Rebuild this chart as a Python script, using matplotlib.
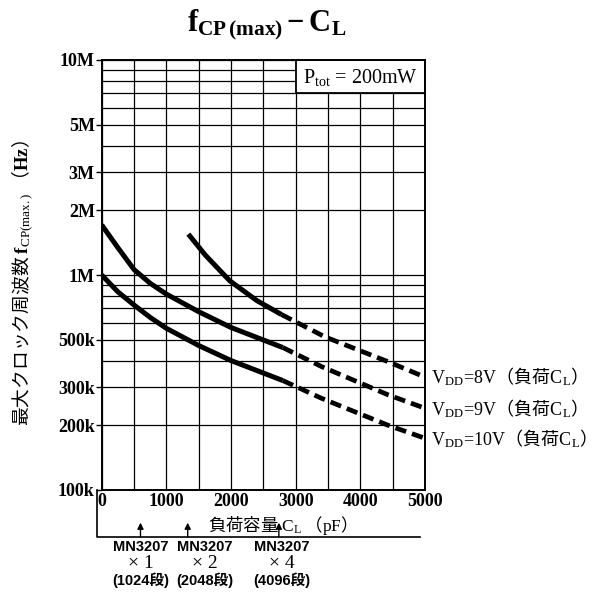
import matplotlib
matplotlib.use('Agg')
import matplotlib.pyplot as plt
import matplotlib.transforms as mtransforms
from matplotlib.ticker import FixedLocator, FixedFormatter, LogLocator, NullFormatter
from matplotlib.patches import Rectangle

plt.rcParams['mathtext.fontset'] = 'custom'
plt.rcParams['mathtext.rm'] = 'Liberation Serif'
plt.rcParams['mathtext.bf'] = 'Liberation Serif:bold'
plt.rcParams['mathtext.it'] = 'Liberation Serif:italic'
plt.rcParams['mathtext.sf'] = 'Liberation Sans'

SERIF = ['Liberation Serif', 'Noto Sans CJK JP', 'DejaVu Sans']
CJK = 'Noto Sans CJK JP'
SANS = ['Liberation Sans Narrow', 'Liberation Sans', 'Noto Sans CJK JP', 'DejaVu Sans']

# ---------------- data ----------------
cap_8v = [1340, 1600, 1980, 2400, 2780, 3450, 4000, 4430, 5000]
f_8v = [1.55e6, 1.24e6, 0.94e6, 0.76e6, 0.655e6, 0.516e6, 0.444e6, 0.395e6, 0.335e6]
cap_9v = [0, 250, 500, 750, 1000, 1500, 2000, 2800, 3400, 4430, 5000]
f_9v = [1.71e6, 1.34e6, 1.06e6, 0.915e6, 0.815e6, 0.675e6, 0.57e6, 0.46e6, 0.375e6, 0.277e6, 0.24e6]
cap_10v = [0, 250, 500, 750, 1000, 1500, 2000, 2800, 3400, 4430, 5000]
f_10v = [1.0e6, 0.835e6, 0.725e6, 0.635e6, 0.565e6, 0.47e6, 0.40e6, 0.323e6, 0.267e6, 0.20e6, 0.174e6]
series_v = ['8V', '9V', '10V']
solid_limit = 2800

y_ticks = [1e5, 2e5, 3e5, 5e5, 1e6, 2e6, 3e6, 5e6, 1e7]
y_labels = ['100k', '200k', '300k', '500k', '1M', '2M', '3M', '5M', '10M']
x_ticks = [0, 1000, 2000, 3000, 4000, 5000]
x_labels = ['0', '1000', '2000', '3000', '4000', '5000']

device_pos = [600, 1330, 2740]
device_label_x = [600, 1600, 2780]
device_names = ['MN3207', 'MN3207', 'MN3207']
device_mult = ['× 1', '× 2', '× 4']
device_stages = ['(1024段)', '(2048段)', '(4096段)']

# ---------------- figure ----------------
fig = plt.figure(figsize=(6.12, 5.94), dpi=100)
ax = fig.add_axes([101.7 / 612, 1 - 490 / 594, (425 - 101.7) / 612, 430 / 594])
ax.set_yscale('log')
ax.set_xlim(0, 5000)
ax.set_ylim(1e5, 1e7)

ax.xaxis.set_major_locator(FixedLocator(x_ticks))
ax.xaxis.set_major_formatter(FixedFormatter(x_labels))
ax.xaxis.set_minor_locator(FixedLocator(list(range(500, 5000, 1000))))
ax.yaxis.set_major_locator(FixedLocator(y_ticks))
ax.yaxis.set_major_formatter(FixedFormatter(y_labels))
ax.yaxis.set_minor_locator(LogLocator(base=10, subs=range(1, 10)))
ax.yaxis.set_minor_formatter(NullFormatter())

ax.grid(True, which='both', color='black', lw=0.9)
ax.set_axisbelow(True)
for s in ax.spines.values():
    s.set_linewidth(1.4)

ax.tick_params(axis='x', which='both', length=0, pad=2)
ax.tick_params(axis='y', which='major', length=4, width=1, direction='out', pad=1)
ax.tick_params(axis='y', which='minor', length=0)
for lab in ax.get_xticklabels() + ax.get_yticklabels():
    lab.set_fontfamily(SERIF)
    lab.set_fontweight('bold')
    lab.set_fontsize(13)

# legend-like box
ax.add_patch(Rectangle((3000, 7e6), 2000, 3e6, facecolor='white', edgecolor='black',
                       lw=1.3, zorder=1.5))
ax.text(4000, 8.3e6, r'P$_{\rm tot}$ = 200mW', ha='center', va='center',
        fontsize=14.5, family=SERIF, zorder=2)

# curves
for caps, fs, v in [(cap_8v, f_8v, series_v[0]), (cap_9v, f_9v, series_v[1]),
                    (cap_10v, f_10v, series_v[2])]:
    n_solid = sum(1 for c in caps if c <= solid_limit)
    ax.plot(caps[:n_solid], fs[:n_solid], color='black', lw=3.6,
            solid_capstyle='butt', solid_joinstyle='round', zorder=3)
    ax.plot(caps[n_solid - 1:], fs[n_solid - 1:], color='black', lw=3.4,
            dashes=(2.4, 1.3), dash_capstyle='butt', zorder=3)
    ax.annotate(r'$\mathrm{V_{DD}\!=\!' + v + r'}$（負荷$\mathrm{C_L}$）',
                xy=(caps[-1], fs[-1]),
                xytext=(4, 0), textcoords='offset points', ha='left', va='center',
                fontsize=13, family=CJK, annotation_clip=False)

# bracket and device markers under the axis
trans = mtransforms.blended_transform_factory(ax.transData, ax.transAxes)
ax.plot([-73, -73, 4920], [0, -0.109, -0.109], color='black', lw=1.2,
        transform=trans, clip_on=False)
for xp in device_pos:
    ax.annotate('', xy=(xp, -0.076), xytext=(xp, -0.109), xycoords=trans,
                textcoords=trans,
                arrowprops=dict(arrowstyle='-|>', color='black', lw=1.0,
                                mutation_scale=9, shrinkA=0, shrinkB=0),
                annotation_clip=False)
for xl, nm, mu, st in zip(device_label_x, device_names, device_mult, device_stages):
    ax.text(xl, -0.133, nm, transform=trans, ha='center', va='center',
            fontsize=10.5, family=SANS, fontweight='bold')
    ax.text(xl, -0.171, mu, transform=trans, ha='center', va='center',
            fontsize=14, family=SERIF)
    ax.text(xl, -0.209, st, transform=trans, ha='center', va='center',
            fontsize=10.5, family=SANS, fontweight='bold')

# x-axis label
ax.text(2720, -0.083, r'負荷容量 $\mathrm{C_L}$ （$\mathrm{pF}$）', transform=trans,
        ha='center', va='center', fontsize=12.5, family=CJK)

# y-axis label
fig.text(0.036, 0.524,
         r'最大クロック周波数 $\mathbf{f}_{\mathrm{CP(max.)}}$ （$\mathbf{Hz}$）',
         rotation=90, ha='center', va='center', fontsize=13.5, family=CJK)

# title
fig.text(0.435, 0.958, r'$\mathbf{f_{CP\,(max)}-C_L}$', ha='center', va='center',
         fontsize=22)

fig.savefig('out.png', dpi=100)
